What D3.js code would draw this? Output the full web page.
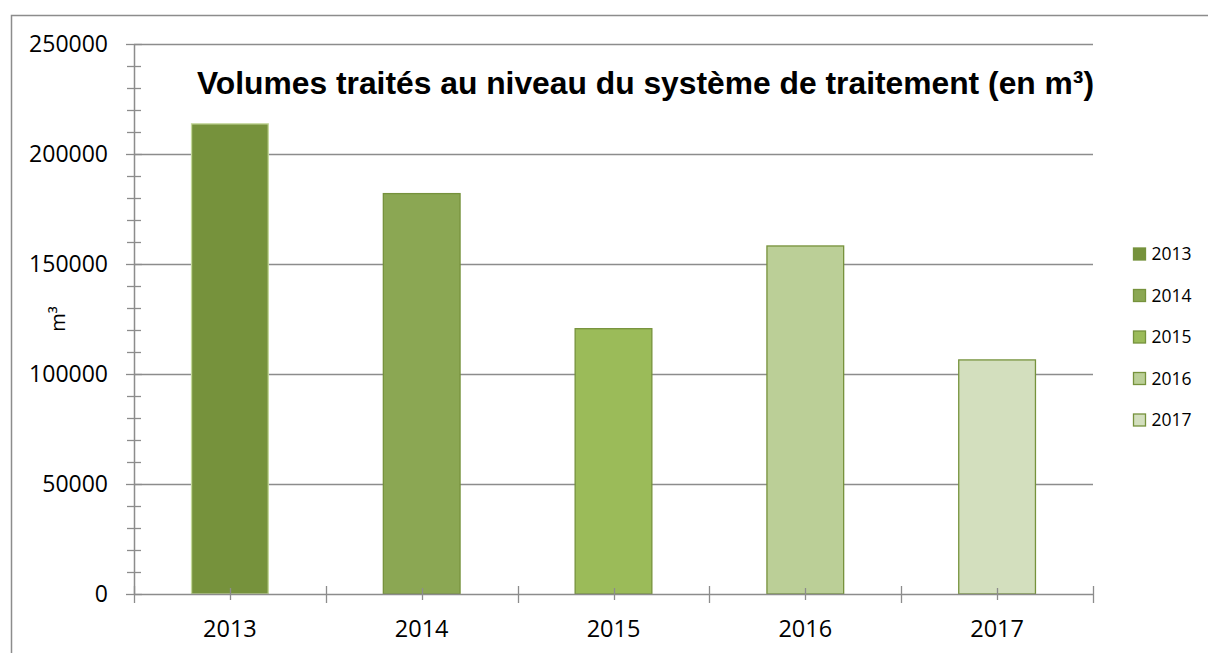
<!DOCTYPE html>
<html>
<head>
<meta charset="utf-8">
<script src="https://cdn.jsdelivr.net/npm/d3@7"></script>
<style>
  html, body { margin: 0; padding: 0; background: #fff; }
  svg { display: block; }
</style>
</head>
<body>
<svg id="chart" width="1208" height="653"></svg>
<script>
const categories = ["2013", "2014", "2015", "2016", "2017"];
const values = [213700, 182000, 120600, 158200, 106400];
const colors = ["#76923c", "#8ba753", "#9bbb59", "#bbcf97", "#d3dfbe"];
const strokes = ["#c4d79b", "#76923c", "#76923c", "#76923c", "#76923c"];
const yTicks = [0, 50000, 100000, 150000, 200000, 250000];
const title = "Volumes traités au niveau du système de traitement (en m³)";
const yTitle = "m³";

(function () {
const svg = d3.select("#chart");
const W = 1208, H = 653;
const pL = 134, pR = 1093, pT = 44, pB = 594;
const labelFont = "'Open Sans', 'Liberation Sans', sans-serif";

// outer border (top and left visible)
svg.append("path")
  .attr("d", `M11.5,${H} L11.5,15.5 L${W},15.5`)
  .attr("fill", "none").attr("stroke", "#8c8c8c").attr("stroke-width", 1.5);

const x = d3.scaleBand().domain(categories).range([pL, pR]).paddingInner(0.6).paddingOuter(0.3);
const xOuter = d3.scaleBand().domain(categories).range([pL, pR]);
const y = d3.scaleLinear().domain([0, 250000]).range([pB, pT]);

// gridlines
svg.append("g").selectAll("line").data(yTicks.filter(d => d > 0)).join("line")
  .attr("x1", pL).attr("x2", pR)
  .attr("y1", d => Math.round(y(d)) + 0.5).attr("y2", d => Math.round(y(d)) + 0.5)
  .attr("stroke", "#8c8c8c").attr("stroke-width", 1.3);

// bars
svg.append("g").selectAll("rect").data(categories).join("rect")
  .attr("x", d => x(d))
  .attr("y", (d, i) => y(values[i]))
  .attr("width", x.bandwidth())
  .attr("height", (d, i) => pB - y(values[i]))
  .attr("fill", (d, i) => colors[i])
  .attr("stroke", (d, i) => strokes[i])
  .attr("stroke-width", 1.3);

// y axis line
svg.append("line").attr("x1", pL + 0.5).attr("x2", pL + 0.5).attr("y1", pT).attr("y2", pB + 1)
  .attr("stroke", "#8c8c8c").attr("stroke-width", 1.5);

// y minor ticks (every 10000)
const minor = d3.range(0, 250001, 10000).filter(v => v % 50000 !== 0);
svg.append("g").selectAll("line").data(minor).join("line")
  .attr("x1", pL - 7).attr("x2", pL + 7)
  .attr("y1", d => Math.round(y(d)) + 0.5).attr("y2", d => Math.round(y(d)) + 0.5)
  .attr("stroke", "#8c8c8c").attr("stroke-width", 1.3);
// y major ticks
svg.append("g").selectAll("line").data(yTicks).join("line")
  .attr("x1", pL - 8).attr("x2", pL + 8)
  .attr("y1", d => Math.round(y(d)) + 0.5).attr("y2", d => Math.round(y(d)) + 0.5)
  .attr("stroke", "#8c8c8c").attr("stroke-width", 1.3);

// y labels
svg.append("g").selectAll("text").data(yTicks).join("text")
  .attr("x", 108).attr("y", d => y(d))
  .attr("dy", "0.36em")
  .attr("text-anchor", "end")
  .attr("font-family", labelFont).attr("font-size", 23).attr("fill", "#000")
  .text(d => d);

// y title
svg.append("text")
  .attr("transform", "translate(65,319) rotate(-90)")
  .attr("text-anchor", "middle")
  .attr("font-family", labelFont).attr("font-size", 20).attr("fill", "#000")
  .text(yTitle);

// x axis line
svg.append("line").attr("x1", pL).attr("x2", pR + 1).attr("y1", pB + 0.5).attr("y2", pB + 0.5)
  .attr("stroke", "#8c8c8c").attr("stroke-width", 1.5);

// x boundary ticks
const bounds = categories.map(c => xOuter(c)).concat([pR]);
svg.append("g").selectAll("line").data(bounds).join("line")
  .attr("x1", d => Math.round(d) + 0.5).attr("x2", d => Math.round(d) + 0.5)
  .attr("y1", pB - 8).attr("y2", pB + 9)
  .attr("stroke", "#8c8c8c").attr("stroke-width", 1.3);
// x center ticks
svg.append("g").selectAll("line").data(categories).join("line")
  .attr("x1", d => Math.round(xOuter(d) + xOuter.bandwidth() / 2) + 0.5)
  .attr("x2", d => Math.round(xOuter(d) + xOuter.bandwidth() / 2) + 0.5)
  .attr("y1", pB - 6).attr("y2", pB + 6)
  .attr("stroke", "#8c8c8c").attr("stroke-width", 1.3);

// x labels
svg.append("g").selectAll("text").data(categories).join("text")
  .attr("x", d => xOuter(d) + xOuter.bandwidth() / 2)
  .attr("y", 637)
  .attr("text-anchor", "middle")
  .attr("font-family", labelFont).attr("font-size", 23.5).attr("fill", "#000")
  .text(d => d);

// title
svg.append("text")
  .attr("x", 645.5).attr("y", 94)
  .attr("text-anchor", "middle")
  .attr("font-family", "'Liberation Sans', Arial, sans-serif")
  .attr("font-weight", "bold").attr("font-size", 31.8).attr("fill", "#000")
  .text(title);

// legend
const legY = d3.scalePoint().domain(categories).range([254, 420]);
const leg = svg.append("g").selectAll("g").data(categories).join("g")
  .attr("transform", d => `translate(1133.5,${legY(d)})`);
leg.append("rect")
  .attr("x", 0).attr("y", -6).attr("width", 12).attr("height", 12)
  .attr("fill", (d, i) => colors[i])
  .attr("stroke", (d, i) => i === 0 ? colors[0] : "#76923c").attr("stroke-width", 1.3);
leg.append("text")
  .attr("x", 18).attr("y", 0).attr("dy", "0.36em")
  .attr("font-family", labelFont).attr("font-size", 17.5).attr("fill", "#000")
  .text(d => d);
})();
</script>
</body>
</html>
